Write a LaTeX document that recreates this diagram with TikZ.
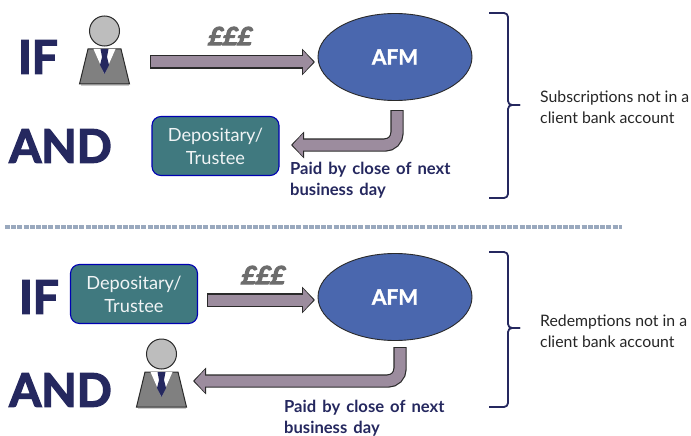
\documentclass[tikz,border=0pt]{standalone}
\usepackage{fontspec}
\setmainfont{Lato}
\newfontfamily\heavy[BoldFeatures={FakeBold=1.5},UprightFeatures={FakeBold=1.5}]{Lato}
\newfontfamily\heavier[UprightFeatures={FakeBold=3},BoldFeatures={FakeBold=3}]{Lato}
\newfontfamily\slanty[BoldFeatures={FakeSlant=0.2},UprightFeatures={FakeSlant=0.2}]{Lato}
\newfontfamily\paidfont[BoldFont=Lato Bold,WordSpace=1.5]{Lato}
\usetikzlibrary{arrows.meta,calc,shapes.geometric}
\definecolor{navy}{HTML}{25285F}
\definecolor{shaft}{HTML}{9C8C9E}
\definecolor{teal2}{HTML}{40797F}
\definecolor{blue2}{HTML}{4A67AE}
\definecolor{edge}{HTML}{2A2A2A}
\definecolor{suit}{HTML}{808080}
\definecolor{headc}{HTML}{BDBDBD}
\definecolor{dividerc}{HTML}{9AA9BE}
\tikzset{
  x=1pt,y=-1pt,
  bigword/.style={font=\fontsize{46}{46}\selectfont\heavier\bfseries,text=navy,inner sep=0pt},
  afmnode/.style={ellipse,draw=edge,line width=.9pt,fill=blue2,minimum width=154pt,minimum height=87pt,inner sep=0pt,text=white,font=\fontsize{21}{21}\selectfont\heavy\bfseries},
  depnode/.style={rounded corners=9pt,draw=blue!70!black,line width=1.1pt,fill=teal2,minimum width=127pt,minimum height=59pt,inner sep=0pt,align=center,text=white!92!teal2,font=\fontsize{18.2}{23}\selectfont},
  paid/.style={font=\fontsize{16.6}{20.5}\selectfont\paidfont\bfseries,text=navy,align=left,inner sep=0pt},
  side/.style={font=\fontsize{15.8}{21}\selectfont,text=black!85,align=left,inner sep=0pt},
  pounds/.style={font=\fontsize{25}{25}\selectfont\slanty\bfseries\special{pdf:code 2 Tr 1 w 0.2 G},text=suit!85!black,inner sep=0pt},
  brace/.style={draw=navy,line width=1.8pt,line join=round,rounded corners=4pt},
  arrowout/.style={line width=13.4pt,draw=edge,-{Triangle[length=13pt,width=26pt,color=edge]}},
  arrowin/.style={line width=11pt,draw=shaft,shorten <=1.2pt,-{Triangle[length=10.2pt,width=21.8pt,color=shaft]}},
  personface/.style={draw=edge,line width=1pt,fill=headc},
  personsuit/.style={draw=edge,line width=1pt,fill=suit},
  dividerline/.style={draw=dividerc,line width=3.6pt,dash pattern=on 5pt off 1.2pt},
}
\newcommand{\person}[2]{%
  \begin{scope}[shift={(#1,#2)}]
    \fill[black!20] (-24,34.5) -- (24,34.5) -- (24,36) -- (-24,36) -- cycle;
    \draw[personsuit] (-16.5,-1) -- (16.5,-1) -- (25,34) -- (-25,34) -- cycle;
    \fill[white] (-11,-1) -- (11,-1) -- (0,24) -- cycle;
    \fill[navy] (-4,-1) -- (4,-1) -- (2.5,7) -- (4.5,15) -- (0,24) -- (-4.5,15) -- (-2.5,7) -- cycle;
    \draw[personface] (0,-19) circle (15);
  \end{scope}}
\newcommand{\bracket}[4]{% x, top, mid, bottom
  \draw[brace] (#1,#2) -- (#1+19,#2) -- (#1+19,#3) -- (#1+31,#3);
  \draw[brace] (#1+31,#3) -- (#1+19,#3) -- (#1+19,#4) -- (#1,#4);}
\begin{document}
\begin{tikzpicture}
\useasboundingbox (0,0) rectangle (691,436);
\fill[white] (0,0) rectangle (691,436);
% divider
\coordinate (d1) at (5,227);
\coordinate (d2) at (622,227);
\draw[dividerline] (d1) -- (d2);
% top
\node[bigword] (if1) at (38,57) {IF};
\node[bigword] (and1) at (60.5,146) {AND};
\person{104.5}{50}
\node[afmnode] (afm1) at (395,57) {AFM};
\node[depnode] (dep1) at (215.5,146) {Depositary/\\Trustee};
\node[pounds] (p1) at (229,36) {£££};
\coordinate (a1s) at (150,62);
\coordinate (a1e) at (315,62);
\draw[arrowout] (a1s) -- (a1e);
\draw[arrowin] (a1s) -- ($(a1e)+(-1.6,0)$);
\coordinate (a2s) at (397,110);
\coordinate (a2e) at (291,145);
\draw[arrowout,rounded corners=12pt] (a2s) -- (397,145) -- (a2e);
\draw[arrowin,rounded corners=12pt] (a2s) -- (397,145) -- ($(a2e)+(1.6,0)$);
\node[paid,anchor=north west] (t1) at (290,162) {Paid by close of next\\business day};
\bracket{489}{13}{105}{198}
\node[side,anchor=west] (s1) at (540,107) {Subscriptions not in a\\client bank account};
% bottom
\node[bigword] (if2) at (39,297) {IF};
\node[bigword] (and2) at (60.5,390) {AND};
\node[depnode] (dep2) at (134,294) {Depositary/\\Trustee};
\person{161.5}{373}
\node[afmnode] (afm2) at (395,297) {AFM};
\node[pounds] (p2) at (262,275) {£££};
\coordinate (a3s) at (207,300);
\coordinate (a3e) at (315,300);
\draw[arrowout] (a3s) -- (a3e);
\draw[arrowin] (a3s) -- ($(a3e)+(-1.6,0)$);
\coordinate (a4s) at (400,347);
\coordinate (a4e) at (193,381);
\draw[arrowout,rounded corners=12pt] (a4s) -- (400,381) -- (a4e);
\draw[arrowin,rounded corners=12pt] (a4s) -- (400,381) -- ($(a4e)+(1.6,0)$);
\node[paid,anchor=north west] (t2) at (284,400) {Paid by close of next\\business day};
\bracket{489}{252}{328}{407}
\node[side,anchor=west] (s2) at (540,331) {Redemptions not in a\\client bank account};
\end{tikzpicture}
\end{document}
